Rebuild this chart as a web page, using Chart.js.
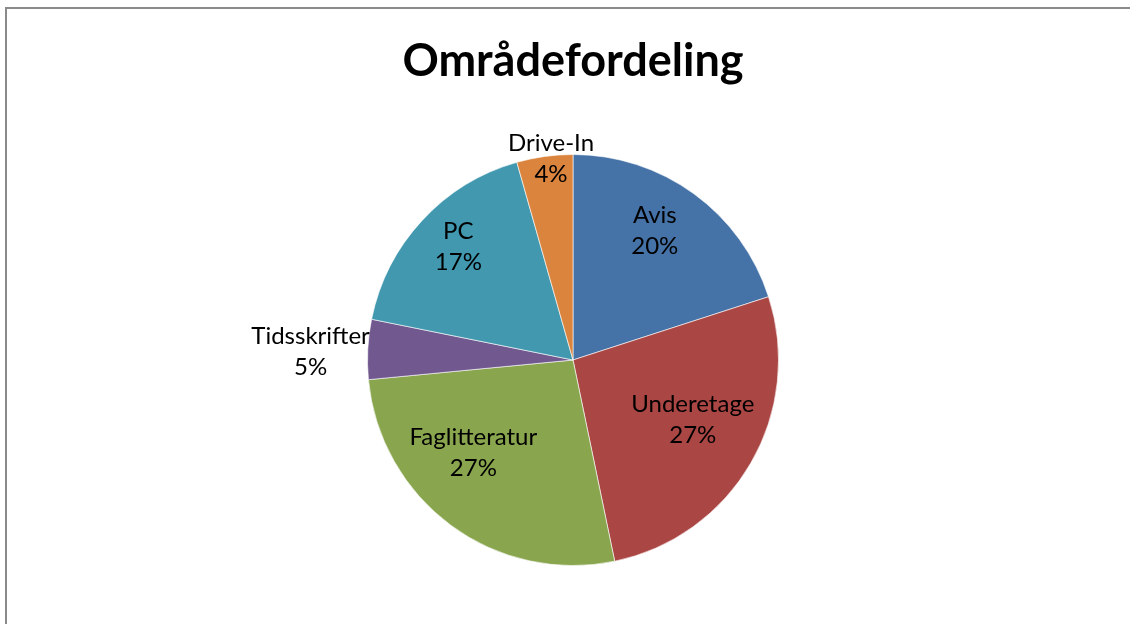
<!DOCTYPE html>
<html>
<head>
<meta charset="utf-8">
<script src="https://cdn.jsdelivr.net/npm/chart.js@4/dist/chart.umd.min.js"></script>
<style>
html,body{margin:0;padding:0;background:#fff;overflow:hidden;}
#wrap{position:relative;width:1130px;height:624px;}
#frame{position:absolute;left:5px;top:7px;width:1200px;height:700px;border:2px solid #8a8a8a;box-sizing:border-box;}
canvas{position:absolute;left:0;top:0;}
</style>
</head>
<body>
<div id="wrap">
<div id="frame"></div>
<canvas id="c" width="1130" height="624"></canvas>
</div>
<script>
const categories = ["Avis", "Underetage", "Faglitteratur", "Tidsskrifter", "PC", "Drive-In"];
const values = [20.0, 26.7, 26.7, 4.7, 17.4, 4.4];
const colors = ["#4572A7", "#AA4643", "#89A54E", "#71588F", "#4198AF", "#DB843D"];
const chartTitle = "Områdefordeling";
// label placement relative to pie centre, in units of radius
const labelOffsets = [[0.398,-0.631],[0.583,0.291],[-0.485,0.451],[-1.277,-0.039],[-0.558,-0.549],[-0.107,-0.981]];

const total = values.reduce((a,b)=>a+b,0);

const labelPlugin = {
  id: 'pieLabels',
  afterDatasetsDraw(chart) {
    const ctx = chart.ctx;
    const meta = chart.getDatasetMeta(0);
    ctx.save();
    ctx.font = '24px Lato, "Open Sans", sans-serif';
    ctx.fillStyle = '#000';
    ctx.textAlign = 'center';
    ctx.textBaseline = 'middle';
    meta.data.forEach((arc, i) => {
      const r = arc.outerRadius;
      const x = arc.x + labelOffsets[i][0]*r;
      const y = arc.y + labelOffsets[i][1]*r;
      const pct = Math.round(values[i]/total*100) + '%';
      ctx.fillText(categories[i], x, y - 15.5);
      ctx.fillText(pct, x, y + 15.5);
    });
    ctx.restore();
  }
};

new Chart(document.getElementById('c'), {
  type: 'pie',
  data: {
    labels: categories,
    datasets: [{
      data: values,
      backgroundColor: colors,
      borderColor: 'rgba(255,255,255,0.6)',
      borderWidth: 1
    }]
  },
  options: {
    responsive: false,
    animation: false,
    layout: { padding: { left: 16, right: 0, top: 0, bottom: 58 } },
    plugins: {
      legend: { display: false },
      tooltip: { enabled: false },
      title: {
        display: true,
        text: chartTitle,
        color: '#000',
        font: { family: 'Lato, "Open Sans", sans-serif', size: 45, weight: 'bold', lineHeight: 1.2 },
        padding: { top: 34, bottom: 66 }
      }
    }
  },
  plugins: [labelPlugin]
});
</script>
</body>
</html>
